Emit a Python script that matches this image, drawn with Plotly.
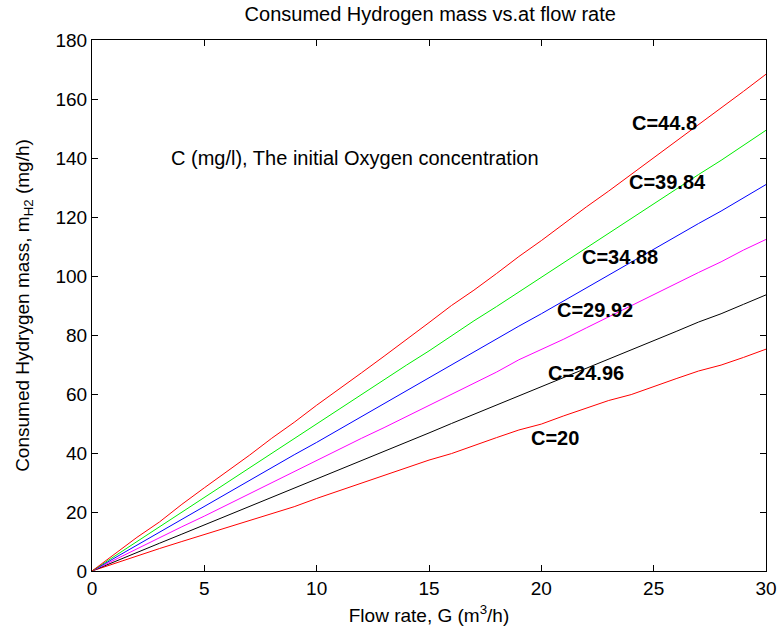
import plotly.graph_objects as go

flow = list(range(0, 31))

m_c20 = [0, 2.6, 5.1, 7.6, 10.0, 12.4, 14.8, 17.2, 19.4, 21.8, 24.6, 27.2, 29.6, 32.2, 35.0, 37.6, 39.8, 42.6, 45.2, 47.8, 49.8, 52.6, 55.2, 57.8, 59.8, 62.6, 65.2, 67.8, 69.8, 72.4, 75.2]
m_c24_96 = [0, 3.2, 6.3, 9.4, 12.5, 15.6, 18.7, 21.9, 25.0, 28.1, 31.2, 34.4, 37.4, 40.6, 43.6, 46.8, 50.0, 53.1, 56.2, 59.4, 62.4, 65.6, 68.6, 71.8, 74.8, 78.0, 81.2, 84.4, 87.2, 90.4, 93.6]
m_c29_92 = [0, 3.8, 7.6, 11.3, 15.0, 18.6, 22.4, 26.2, 30.0, 33.6, 37.6, 41.2, 45.0, 48.6, 52.4, 56.2, 59.8, 63.6, 67.4, 71.6, 75.0, 78.6, 82.4, 86.2, 89.8, 93.6, 97.4, 101.2, 104.8, 108.8, 112.4]
m_c34_88 = [0, 4.4, 8.8, 13.2, 17.4, 21.8, 26.2, 30.6, 35.2, 39.4, 43.6, 48.0, 52.4, 56.8, 61.0, 65.4, 69.8, 74.2, 78.6, 83.0, 87.2, 91.6, 96.0, 100.4, 104.8, 109.0, 113.4, 117.8, 122.0, 126.6, 131.0]
m_c39_84 = [0, 5.0, 10.0, 15.0, 20.0, 25.0, 30.0, 34.8, 40.0, 44.8, 49.8, 54.8, 59.8, 64.8, 69.8, 74.6, 79.8, 84.8, 89.6, 94.6, 99.6, 104.6, 109.6, 114.6, 119.6, 124.4, 129.4, 134.4, 139.2, 144.4, 149.4]
m_c44_8 = [0, 5.6, 11.4, 16.6, 22.6, 28.2, 33.6, 39.2, 45.0, 50.4, 56.2, 61.6, 67.2, 72.8, 78.4, 84.2, 90.0, 95.2, 100.8, 106.6, 112.0, 117.8, 123.4, 128.8, 134.4, 140.2, 145.8, 151.2, 157.0, 162.6, 168.4]

series = [
    (m_c20, "red"),
    (m_c24_96, "black"),
    (m_c29_92, "magenta"),
    (m_c34_88, "blue"),
    (m_c39_84, "#00ee00"),
    (m_c44_8, "red"),
]

label_text = ["C=44.8", "C=39.84", "C=34.88", "C=29.92", "C=24.96", "C=20"]
label_x = [25.5, 25.6, 23.5, 22.4, 22.0, 20.6]
label_y = [151.9, 131.9, 106.4, 88.5, 67.1, 45.1]

FONT = "Liberation Sans, Arial"

fig = go.Figure()
for ys, col in series:
    fig.add_trace(go.Scatter(x=flow, y=ys, mode="lines",
                             line=dict(color=col, width=1), showlegend=False))

for t, lx, ly in zip(label_text, label_x, label_y):
    fig.add_annotation(x=lx, y=ly, text="<b>" + t + "</b>", showarrow=False,
                       font=dict(size=20, color="black", family=FONT))

fig.add_annotation(x=11.7, y=140, text="C (mg/l), The initial Oxygen concentration",
                   showarrow=False, font=dict(size=20, color="black", family=FONT))

axis_common = dict(showgrid=False, zeroline=False, showline=True, linecolor="black",
                   linewidth=1, mirror="ticks", ticks="inside", ticklen=6,
                   tickcolor="black", automargin=False,
                   tickfont=dict(size=19, color="black", family=FONT))

fig.update_layout(
    width=778, height=638,
    margin=dict(l=92, r=12, t=40, b=67),
    paper_bgcolor="white", plot_bgcolor="white",
    font=dict(family=FONT, color="black"),
    title=dict(text="Consumed Hydrogen mass vs.at flow rate", x=0.553, xanchor="center",
               y=0.978, yanchor="middle", font=dict(size=20, color="black", family=FONT)),
    xaxis=dict(range=[0, 30], tickvals=[0, 5, 10, 15, 20, 25, 30],
               title=dict(text="Flow rate, G (m<sup>3</sup>/h)", font=dict(size=19, family=FONT), standoff=10),
               **axis_common),
    yaxis=dict(range=[0, 180], tickvals=list(range(0, 181, 20)),
               title=dict(text="Consumed Hydrygen mass, m<sub>H2</sub> (mg/h)", font=dict(size=19, family=FONT), standoff=20),
               **axis_common),
)

fig.write_html("out.html", config={"displayModeBar": False},
               post_script="document.body.style.margin='0';document.body.style.overflow='hidden';")
